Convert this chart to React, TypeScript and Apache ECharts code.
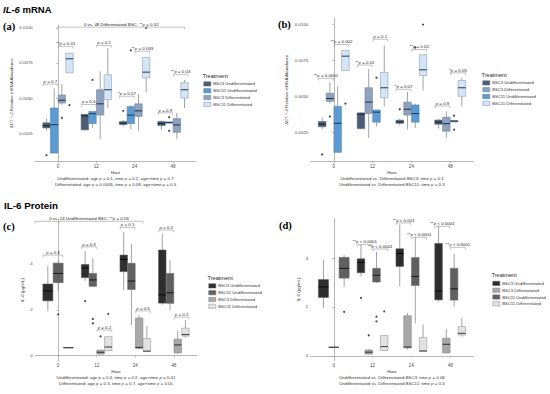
import React, { useEffect, useRef } from "react";
import * as echarts from "echarts";

const HOURS = ["0", "12", "24", "48"];
const GROUP_NAMES: Record<string, string> = {
  u3: "BSC3 Undifferentiated",
  u11: "BSC11 Undifferentiated",
  d3: "BSC3 Differentiated",
  d11: "BSC11 Differentiated",
};

// ---- IL-6 mRNA: [min, Q1, median, Q3, max] per hour ----
const MRNA_BSC3_UNDIFF = [
  [0.0027, 0.00288, 0.00305, 0.00325, 0.00355],
  [0.00272, 0.00275, 0.00375, 0.00385, 0.00388],
  [0.00298, 0.00312, 0.00322, 0.00334, 0.00345],
  [0.00275, 0.00305, 0.0032, 0.00335, 0.0034],
];
const MRNA_BSC11_UNDIFF = [
  [0.0011, 0.0011, 0.00312, 0.0043, 0.0057],
  [0.0029, 0.0032, 0.0039, 0.00405, 0.00405],
  [0.0028, 0.0032, 0.0038, 0.0044, 0.0045],
  [0.0032, 0.00322, 0.00328, 0.0033, 0.0033],
];
const MRNA_BSC3_DIFF = [
  [0.0045, 0.00465, 0.00485, 0.00522, 0.006],
  [0.0021, 0.0038, 0.0046, 0.0056, 0.0069],
  [0.0027, 0.0037, 0.0041, 0.0046, 0.0053],
  [0.0021, 0.00257, 0.0031, 0.00355, 0.00395],
];
const MRNA_BSC11_DIFF = [
  [0.0068, 0.0068, 0.0078, 0.0082, 0.0082],
  [0.0043, 0.0049, 0.0056, 0.00667, 0.00856],
  [0.0054, 0.00645, 0.00685, 0.0079, 0.0079],
  [0.0043, 0.005, 0.0056, 0.0061, 0.0063],
];
// outliers: [hour index, value]
const MRNA_BSC3_UNDIFF_OUT = [[0, 0.00095], [2, 0.0041]];
const MRNA_BSC11_UNDIFF_OUT = [[1, 0.0063], [2, 0.0084], [3, 0.00365], [3, 0.00268]];
const MRNA_BSC3_DIFF_OUT = [[0, 0.0036]];
const MRNA_BSC11_DIFF_OUT = [[0, 0.0045], [2, 0.01]];

// ---- IL-6 Protein (pg/mL) ----
const PROT_BSC3_UNDIFF = [
  [1.94, 2.39, 2.82, 3.12, 3.92],
  [3.25, 3.4, 3.82, 3.97, 4.55],
  [2.84, 3.66, 4.19, 4.38, 5.38],
  [2.22, 2.29, 2.65, 4.6, 5.32],
];
const PROT_BSC11_UNDIFF = [
  [2.82, 3.18, 3.58, 4.03, 4.12],
  [2.98, 3.02, 3.3, 3.58, 4.25],
  [1.33, 2.88, 3.25, 4.02, 4.87],
  [1.99, 2.28, 2.74, 3.58, 4.17],
];
const PROT_BSC3_DIFF = [
  [0.35, 0.35, 0.35, 0.35, 0.35],
  [0.05, 0.07, 0.15, 0.24, 0.27],
  [0.26, 0.32, 0.36, 1.64, 1.76],
  [0.08, 0.12, 0.47, 0.72, 1.1],
];
const PROT_BSC11_DIFF = [
  null,
  [0.2, 0.22, 0.38, 0.83, 0.83],
  [0.17, 0.18, 0.2, 0.75, 1.28],
  [0.78, 0.85, 0.92, 1.2, 1.55],
];
const PROT_BSC3_UNDIFF_OUT = [[1, 2.37]];
const PROT_BSC11_UNDIFF_OUT = [[0, 1.8], [1, 1.6], [1, 1.41]];
const PROT_BSC3_DIFF_OUT = [[1, 0.84]];
const PROT_BSC11_DIFF_OUT = [[1, 1.82]];

const MRNA_TICKS = [0.0025, 0.005, 0.0075, 0.01];
const PROT_TICKS = [0, 2, 4];

// brackets: [hour index, group A, group B, y, label]
const A_BRACKETS: any[] = [
  [0, "u3", "u11", 0.006, "p = 0.7"],
  [0, "d3", "d11", 0.00868, "**p = 0.01"],
  [1, "u3", "u11", 0.00455, "p = 0.4"],
  [1, "d3", "d11", 0.00875, "p = 0.1"],
  [2, "u3", "u11", 0.00514, "*p = 0.07"],
  [2, "d3", "d11", 0.00833, "**p = 0.003"],
  [3, "u3", "u11", 0.00396, "p = 0.9"],
  [3, "d3", "d11", 0.00667, "**p = 0.03"],
];
const B_BRACKETS: any[] = [
  [0, "u3", "d3", 0.00625, "**p = 0.0001"],
  [0, "u11", "d11", 0.00861, "**p = 0.002"],
  [1, "u3", "d3", 0.00718, "**p = 0.01"],
  [1, "u11", "d11", 0.00898, "p = 0.1"],
  [2, "u3", "d3", 0.00549, "*p = 0.07"],
  [2, "u11", "d11", 0.00826, "**p = 0.02"],
  [3, "u3", "d3", 0.00433, "p = 0.9"],
  [3, "u11", "d11", 0.00664, "*p = 0.05"],
];
const C_BRACKETS: any[] = [
  [0, "u3", "u11", 4.38, "p = 0.3"],
  [1, "u3", "u11", 4.74, "p = 0.3"],
  [1, "d3", "d11", 1.12, "p = 0.2"],
  [2, "u3", "u11", 5.58, "p = 0.1"],
  [2, "d3", "d11", 1.95, "p = 0.5"],
  [3, "u3", "u11", 5.47, "p = 0.2"],
  [3, "d3", "d11", 1.68, "p = 0.2"],
];
const D_BRACKETS: any[] = [
  [1, "u3", "d3", 4.55, "**p < 0.0001"],
  [1, "u11", "d11", 4.37, "**p < 0.0001"],
  [2, "u3", "d3", 5.44, "**p < 0.001"],
  [2, "u11", "d11", 4.85, "**p < 0.0001"],
  [3, "u3", "d3", 5.3, "**p < 0.0001"],
  [3, "u11", "d11", 4.44, "**p < 0.0001"],
];
// long brackets: [x start, x end (axis units), y, label]
const A_TOP: any[] = [[0, 3.3, 0.01005, "0 vs. 48 Differentiated BSC: **p = 0.02"]];
const C_TOP: any[] = [[-0.6, 2.2, 5.85, "0 vs. 24 Undifferentiated BSC: **p = 0.03"]];

const A_CAPTION = [
  "Undifferentiated: age p = 0.1, time p = 0.2, age×time p = 0.7",
  "Differentiated: age p = 0.0005, time p = 0.09, age×time p = 0.5",
];
const B_CAPTION = [
  "Undifferentiated vs. Differentiated BSC3: time p = 0.1",
  "Undifferentiated vs. Differentiated BSC11: time p = 0.3",
];
const C_CAPTION = [
  "Undifferentiated: age p = 0.4, time p = 0.2, age×time p = 0.01",
  "Differentiated: age p = 0.3, time p = 0.7, age×time p = 0.01",
];
const D_CAPTION = [
  "Undifferentiated vs. Differentiated BSC3: time p = 0.06",
  "Undifferentiated vs. Differentiated BSC11: time p = 0.4",
];

const FONT = "'Liberation Sans', Arial, sans-serif";

const MRNA: Record<string, any> = {
  u3: { box: MRNA_BSC3_UNDIFF, out: MRNA_BSC3_UNDIFF_OUT },
  u11: { box: MRNA_BSC11_UNDIFF, out: MRNA_BSC11_UNDIFF_OUT },
  d3: { box: MRNA_BSC3_DIFF, out: MRNA_BSC3_DIFF_OUT },
  d11: { box: MRNA_BSC11_DIFF, out: MRNA_BSC11_DIFF_OUT },
};
const PROT: Record<string, any> = {
  u3: { box: PROT_BSC3_UNDIFF, out: PROT_BSC3_UNDIFF_OUT },
  u11: { box: PROT_BSC11_UNDIFF, out: PROT_BSC11_UNDIFF_OUT },
  d3: { box: PROT_BSC3_DIFF, out: PROT_BSC3_DIFF_OUT },
  d11: { box: PROT_BSC11_DIFF, out: PROT_BSC11_DIFF_OUT },
};

const BLUE_STYLE: Record<string, any> = {
  u3: { fill: "#4b5d75", stroke: "#5c6b7e", median: "#1c2838" },
  u11: { fill: "#5b9bd5", stroke: "#5d7fa0", median: "#1f3f5e" },
  d3: { fill: "#8ea2bd", stroke: "#7486a0", median: "#2a3a52" },
  d11: { fill: "#d4e5f6", stroke: "#8aa0b8", median: "#33475f" },
};
const GRAY_STYLE: Record<string, any> = {
  u3: { fill: "#2e2e2e", stroke: "#555555", median: "#0d0d0d" },
  u11: { fill: "#606060", stroke: "#6a6a6a", median: "#1e1e1e" },
  d3: { fill: "#a8a8a8", stroke: "#888888", median: "#3a3a3a" },
  d11: { fill: "#e2e2e2", stroke: "#9a9a9a", median: "#4a4a4a" },
};

const PANELS = [
  {
    key: "a", left: 35, top: 25, width: 161, height: 136.5, yMin: 0.0005, yMax: 0.0102,
    ticks: MRNA_TICKS, digits: 4, order: ["u3", "u11", "d3", "d11"], set: MRNA, style: BLUE_STYLE,
    brackets: A_BRACKETS, longs: A_TOP, caption: A_CAPTION, yName: "ΔCT ^-2 Relative mRNA Abundance",
    yNameGap: 22, legendLeft: 203.5, legendTop: 81.5, tag: "(a)", tagX: 3, tagY: 21,
  },
  {
    key: "b", left: 310.5, top: 18, width: 163, height: 143.5, yMin: 0.00046, yMax: 0.01046,
    ticks: MRNA_TICKS, digits: 4, order: ["u3", "d3", "u11", "d11"], set: MRNA, style: BLUE_STYLE,
    brackets: B_BRACKETS, longs: [], caption: B_CAPTION, yName: "ΔCT ^-2 Relative mRNA Abundance",
    yNameGap: 22, legendLeft: 482.5, legendTop: 80.5, tag: "(b)", tagX: 278, tagY: 19,
  },
  {
    key: "c", left: 35, top: 219, width: 162, height: 142, yMin: -0.23, yMax: 5.95,
    ticks: PROT_TICKS, digits: 0, order: ["u3", "u11", "d3", "d11"], set: PROT, style: GRAY_STYLE,
    brackets: C_BRACKETS, longs: C_TOP, caption: C_CAPTION, yName: "IL-6 (pg/mL)",
    yNameGap: 10.5, legendLeft: 208.5, legendTop: 283.5, tag: "(c)", tagX: 3, tagY: 221,
  },
  {
    key: "d", left: 310.5, top: 218.5, width: 163, height: 142.2, yMin: -0.2, yMax: 5.62,
    ticks: PROT_TICKS, digits: 0, order: ["u3", "d3", "u11", "d11"], set: PROT, style: GRAY_STYLE,
    brackets: D_BRACKETS, longs: [], caption: D_CAPTION, yName: "IL-6 (pg/mL)",
    yNameGap: 10.5, legendLeft: 492.5, legendTop: 281, tag: "(d)", tagX: 279, tagY: 220,
  },
];

const richP = (s: string) => s.replace(/p(?= [=<])/g, "{i|p}");

const DODGE_TOTAL = 0.8;

// dodge-like placement of the groups present at one hour
function dodge(panel: any, hour: number) {
  const present = panel.order.filter((g: string) => panel.set[g].box[hour] != null);
  const n = present.length;
  const slot = DODGE_TOTAL / n;
  const pos: Record<string, number> = {};
  present.forEach((g: string, i: number) => {
    pos[g] = hour - DODGE_TOTAL / 2 + slot * (i + 0.5);
  });
  return { pos, slot, width: slot * 0.97 };
}

function boxRenderer(st: any) {
  return (params: any, api: any) => {
    const x = api.value(0);
    const w = api.value(6);
    const top = api.coord([x, api.value(5)]);
    const q3 = api.coord([x, api.value(4)]);
    const md = api.coord([x, api.value(3)]);
    const q1 = api.coord([x, api.value(2)]);
    const bot = api.coord([x, api.value(1)]);
    const half = api.size([w, 0])[0] / 2;
    const cx = top[0];
    return {
      type: "group",
      children: [
        { type: "line", shape: { x1: cx, y1: top[1], x2: cx, y2: q3[1] }, style: { stroke: "#8c8c8c", lineWidth: 0.8 } },
        { type: "line", shape: { x1: cx, y1: q1[1], x2: cx, y2: bot[1] }, style: { stroke: "#8c8c8c", lineWidth: 0.8 } },
        {
          type: "rect",
          shape: { x: cx - half, y: q3[1], width: half * 2, height: Math.max(q1[1] - q3[1], 0) },
          style: { fill: st.fill, stroke: st.stroke, lineWidth: 0.6 },
        },
        { type: "line", shape: { x1: cx - half, y1: md[1], x2: cx + half, y2: md[1] }, style: { stroke: st.median, lineWidth: 1.1 } },
      ],
    };
  };
}

function bracketRenderer(list: any[]) {
  return (params: any, api: any) => {
    const b = list[params.dataIndex];
    const p1 = api.coord([b.x1, b.y]);
    const p2 = api.coord([b.x2, b.y]);
    const tick = 2.2;
    return {
      type: "group",
      children: [
        {
          type: "polyline",
          shape: { points: [[p1[0], p1[1] + tick], [p1[0], p1[1]], [p2[0], p2[1]], [p2[0], p2[1] + tick]] },
          style: { stroke: "#a6a6a6", lineWidth: 0.7, fill: "none" },
        },
        {
          type: "text",
          x: (p1[0] + p2[0]) / 2,
          y: p1[1] - 0.8,
          style: {
            text: richP(b.label),
            align: "center",
            verticalAlign: "bottom",
            fontSize: 4.4,
            fontFamily: FONT,
            fill: "#262626",
            rich: { i: { fontStyle: "italic", fontSize: 4.4, fontFamily: FONT, fill: "#262626" } },
          },
        },
      ],
    };
  };
}

function buildOption() {
  const grid: any[] = [];
  const xAxis: any[] = [];
  const yAxis: any[] = [];
  const series: any[] = [];
  const legend: any[] = [];
  const graphic: any[] = [];

  PANELS.forEach((p: any, i: number) => {
    grid.push({ left: p.left, top: p.top, width: p.width, height: p.height, containLabel: false });
    xAxis.push({
      type: "value", gridIndex: i, min: -0.6, max: 3.6,
      name: `Hour\n${richP(p.caption[0])}\n${richP(p.caption[1])}`,
      nameLocation: "middle", nameGap: 7,
      nameTextStyle: {
        fontSize: 4.4, fontFamily: FONT, color: "#333333", lineHeight: 5.8,
        rich: { i: { fontStyle: "italic", fontSize: 4.4, fontFamily: FONT, color: "#333333", lineHeight: 5.8 } },
      },
      axisLine: { lineStyle: { color: "#a6a6a6", width: 0.8 } },
      axisTick: { customValues: [0, 1, 2, 3], length: 1.8, lineStyle: { color: "#a6a6a6", width: 0.7 } },
      axisLabel: {
        customValues: [0, 1, 2, 3], fontSize: 4.6, fontFamily: FONT, color: "#4d4d4d", margin: 2.2,
        formatter: (v: number) => HOURS[Math.round(v)],
      },
      splitLine: { show: false },
    });
    yAxis.push({
      type: "value", gridIndex: i, min: p.yMin, max: p.yMax,
      name: p.yName, nameLocation: "middle", nameRotate: 90, nameGap: p.yNameGap,
      nameTextStyle: { fontSize: 4.4, fontFamily: FONT, color: "#333333" },
      axisLine: { show: true, lineStyle: { color: "#a6a6a6", width: 0.8 } },
      axisTick: { show: true, customValues: p.ticks, length: 1.8, lineStyle: { color: "#a6a6a6", width: 0.7 } },
      axisLabel: {
        customValues: p.ticks, fontSize: 4.4, fontFamily: FONT, color: "#4d4d4d", margin: 2.2,
        formatter: (v: number) => v.toFixed(p.digits),
      },
      splitLine: { show: false },
    });

    // boxes
    const outliers: any[] = [];
    p.order.forEach((g: string) => {
      const st = p.style[g];
      const data: any[] = [];
      p.set[g].box.forEach((b: number[] | null, h: number) => {
        if (!b) return;
        const d = dodge(p, h);
        data.push([d.pos[g], b[0], b[1], b[2], b[3], b[4], d.width]);
      });
      p.set[g].out.forEach((o: number[]) => {
        const d = dodge(p, o[0]);
        outliers.push([d.pos[g], o[1]]);
      });
      series.push({
        type: "custom", name: `${p.key}|${GROUP_NAMES[g]}`, xAxisIndex: i, yAxisIndex: i,
        renderItem: boxRenderer(st), data, encode: { x: 0, y: [1, 2, 3, 4, 5] },
        itemStyle: { color: st.fill, borderColor: st.stroke }, z: 2, silent: true, clip: false,
      });
    });
    series.push({
      type: "scatter", xAxisIndex: i, yAxisIndex: i, data: outliers, symbol: "circle",
      symbolSize: 2.2, itemStyle: { color: "#1a1a1a" }, z: 3, silent: true,
    });

    // significance brackets (span from the outer edge of box A to the outer edge of box B)
    const bl: any[] = [];
    p.brackets.forEach((b: any[]) => {
      const d = dodge(p, b[0]);
      bl.push({ x1: d.pos[b[1]] - d.slot * 0.45, x2: d.pos[b[2]] + d.slot * 0.45, y: b[3], label: b[4] });
    });
    p.longs.forEach((b: any[]) => bl.push({ x1: b[0], x2: b[1], y: b[2], label: b[3] }));
    series.push({
      type: "custom", xAxisIndex: i, yAxisIndex: i, renderItem: bracketRenderer(bl),
      data: bl.map((b) => [b.x1, b.y]), encode: { x: 0, y: 1 }, z: 4, silent: true, clip: false,
    });

    legend.push({
      orient: "vertical", left: p.legendLeft, top: p.legendTop, padding: 0,
      itemWidth: 7, itemHeight: 4.2, itemGap: 2, selectedMode: false,
      textStyle: { fontSize: 4.2, fontFamily: FONT, color: "#333333", padding: [0, 0, 0, -2.6] },
      formatter: (n: string) => n.split("|")[1],
      data: p.order.map((g: string) => ({
        name: `${p.key}|${GROUP_NAMES[g]}`, icon: "rect",
        itemStyle: { color: p.style[g].fill, borderColor: p.style[g].stroke, borderWidth: 0.6 },
      })),
    });
    graphic.push({
      type: "text", left: p.legendLeft - 1, top: p.legendTop - 9,
      style: { text: "Treatment", fontSize: 5.6, fontFamily: FONT, fill: "#262626" },
    });
    graphic.push({
      type: "text", left: p.tagX, top: p.tagY,
      style: { text: p.tag, fontSize: 10.5, fontWeight: "bold", fontFamily: "'Liberation Serif', 'Times New Roman', serif", fill: "#000000" },
    });
  });

  graphic.push({
    type: "text", left: 3, top: 4,
    style: {
      text: "{i|IL-6}{b| mRNA}",
      rich: {
        i: { fontStyle: "italic", fontWeight: "bold", fontSize: 9.5, fontFamily: FONT, fill: "#000" },
        b: { fontWeight: "bold", fontSize: 9.5, fontFamily: FONT, fill: "#000" },
      },
    },
  });
  graphic.push({
    type: "text", left: 4, top: 200,
    style: { text: "IL-6 Protein", fontWeight: "bold", fontSize: 9.8, fontFamily: FONT, fill: "#000" },
  });

  return { animation: false, backgroundColor: "#ffffff", grid, xAxis, yAxis, series, legend, graphic };
}

export default function App() {
  const ref = useRef<HTMLDivElement>(null);
  useEffect(() => {
    if (!ref.current) return;
    const chart = echarts.init(ref.current, null, { renderer: "svg" });
    chart.setOption(buildOption() as any);
    return () => chart.dispose();
  }, []);
  return <div ref={ref} style={{ position: "absolute", left: 0, top: 0, width: 550, height: 394 }} />;
}
